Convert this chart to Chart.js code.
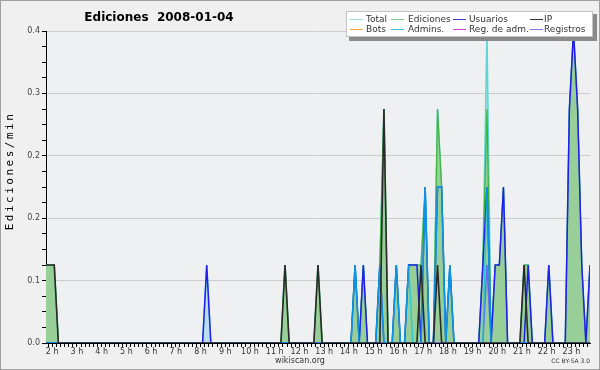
<!DOCTYPE html>
<html>
<head>
<meta charset="utf-8">
<style>
  html, body { margin: 0; padding: 0; background: #f0f0f0; }
  canvas { display: block; }
</style>
<script src="https://cdn.jsdelivr.net/npm/chart.js@4/dist/chart.umd.min.js"></script>
</head>
<body>
<canvas id="chart" width="600" height="370"></canvas>
<script>
// 10-minute slots, centred on hh:05, hh:15 ... from 1:45 to 23:45 (edits/min)
const firstSlot = 1.75;   // 1:45, in hours
const slotHours = 1 / 6;

// one line per three hours: 1 h (2 slots), 2-4 h, 5-7 h, 8-10 h, 11-13 h, 14-16 h, 17-19 h, 20-22 h, 23 h (5 slots)
const total = [
  0.1, 0.1,
  0.1, 0, 0, 0, 0, 0,  0, 0, 0, 0, 0, 0,  0, 0, 0, 0, 0, 0,
  0, 0, 0, 0, 0, 0,  0, 0, 0, 0, 0, 0,  0, 0, 0, 0, 0, 0,
  0, 0.1, 0, 0, 0, 0,  0, 0, 0, 0, 0, 0,  0, 0, 0, 0, 0, 0,
  0, 0, 0.1, 0, 0, 0,  0, 0, 0, 0, 0.1, 0,  0, 0, 0, 0, 0, 0,
  0, 0.1, 0, 0.1, 0, 0,  0, 0.1, 0.3, 0, 0, 0.1,  0, 0, 0.1, 0.1, 0.1, 0.1,
  0.2, 0, 0, 0.3, 0.2, 0,  0.1, 0, 0, 0, 0, 0,  0, 0, 0.1, 0.4, 0, 0.1,
  0.1, 0.2, 0, 0, 0, 0,  0.1, 0.1, 0, 0, 0, 0,  0.1, 0, 0, 0, 0, 0.3,
  0.4, 0.3, 0.1, 0, 0.1
];
const ediciones = [
  0.1, 0.1,
  0.1, 0, 0, 0, 0, 0,  0, 0, 0, 0, 0, 0,  0, 0, 0, 0, 0, 0,
  0, 0, 0, 0, 0, 0,  0, 0, 0, 0, 0, 0,  0, 0, 0, 0, 0, 0,
  0, 0, 0, 0, 0, 0,  0, 0, 0, 0, 0, 0,  0, 0, 0, 0, 0, 0,
  0, 0, 0.1, 0, 0, 0,  0, 0, 0, 0, 0.1, 0,  0, 0, 0, 0, 0, 0,
  0, 0.1, 0, 0.1, 0, 0,  0, 0.1, 0.3, 0, 0, 0.1,  0, 0, 0.1, 0.1, 0.1, 0.1,
  0.2, 0, 0, 0.3, 0.2, 0,  0.1, 0, 0, 0, 0, 0,  0, 0, 0.1, 0.3, 0, 0.1,
  0.1, 0.2, 0, 0, 0, 0,  0.1, 0.1, 0, 0, 0, 0,  0.1, 0, 0, 0, 0, 0.3,
  0.4, 0.3, 0.1, 0, 0.1
];
const usuarios = [
  0, 0,
  0, 0, 0, 0, 0, 0,  0, 0, 0, 0, 0, 0,  0, 0, 0, 0, 0, 0,
  0, 0, 0, 0, 0, 0,  0, 0, 0, 0, 0, 0,  0, 0, 0, 0, 0, 0,
  0, 0.1, 0, 0, 0, 0,  0, 0, 0, 0, 0, 0,  0, 0, 0, 0, 0, 0,
  0, 0, 0, 0, 0, 0,  0, 0, 0, 0, 0, 0,  0, 0, 0, 0, 0, 0,
  0, 0.1, 0, 0.1, 0, 0,  0, 0.1, 0, 0, 0, 0.1,  0, 0, 0.1, 0.1, 0.1, 0,
  0.2, 0, 0, 0.2, 0.2, 0,  0.1, 0, 0, 0, 0, 0,  0, 0, 0.1, 0.2, 0, 0.1,
  0.1, 0.2, 0, 0, 0, 0,  0, 0.1, 0, 0, 0, 0,  0.1, 0, 0, 0, 0, 0.3,
  0.4, 0.3, 0.1, 0, 0.1
];
const ip = [
  0.1, 0.1,
  0.1, 0, 0, 0, 0, 0,  0, 0, 0, 0, 0, 0,  0, 0, 0, 0, 0, 0,
  0, 0, 0, 0, 0, 0,  0, 0, 0, 0, 0, 0,  0, 0, 0, 0, 0, 0,
  0, 0, 0, 0, 0, 0,  0, 0, 0, 0, 0, 0,  0, 0, 0, 0, 0, 0,
  0, 0, 0.1, 0, 0, 0,  0, 0, 0, 0, 0.1, 0,  0, 0, 0, 0, 0, 0,
  0, 0, 0, 0, 0, 0,  0, 0, 0.3, 0, 0, 0,  0, 0, 0, 0, 0, 0.1,
  0, 0, 0, 0.1, 0, 0,  0, 0, 0, 0, 0, 0,  0, 0, 0, 0, 0, 0,
  0, 0, 0, 0, 0, 0,  0.1, 0, 0, 0, 0, 0,  0, 0, 0, 0, 0, 0,
  0, 0, 0, 0, 0
];
const bots = [
  0, 0,
  0, 0, 0, 0, 0, 0,  0, 0, 0, 0, 0, 0,  0, 0, 0, 0, 0, 0,
  0, 0, 0, 0, 0, 0,  0, 0, 0, 0, 0, 0,  0, 0, 0, 0, 0, 0,
  0, 0, 0, 0, 0, 0,  0, 0, 0, 0, 0, 0,  0, 0, 0, 0, 0, 0,
  0, 0, 0, 0, 0, 0,  0, 0, 0, 0, 0, 0,  0, 0, 0, 0, 0, 0,
  0, 0, 0, 0, 0, 0,  0, 0, 0, 0, 0, 0,  0, 0, 0, 0, 0, 0,
  0, 0, 0, 0, 0, 0,  0, 0, 0, 0, 0, 0,  0, 0, 0, 0, 0, 0,
  0, 0, 0, 0, 0, 0,  0, 0, 0, 0, 0, 0,  0, 0, 0, 0, 0, 0,
  0, 0, 0, 0, 0
];
const admins = [
  0, 0,
  0, 0, 0, 0, 0, 0,  0, 0, 0, 0, 0, 0,  0, 0, 0, 0, 0, 0,
  0, 0, 0, 0, 0, 0,  0, 0, 0, 0, 0, 0,  0, 0, 0, 0, 0, 0,
  0, 0, 0, 0, 0, 0,  0, 0, 0, 0, 0, 0,  0, 0, 0, 0, 0, 0,
  0, 0, 0, 0, 0, 0,  0, 0, 0, 0, 0, 0,  0, 0, 0, 0, 0, 0,
  0, 0.1, 0, 0, 0, 0,  0, 0.1, 0, 0, 0, 0.1,  0, 0, 0.1, 0, 0, 0,
  0.2, 0, 0, 0.2, 0.2, 0,  0.1, 0, 0, 0, 0, 0,  0, 0, 0, 0.2, 0, 0,
  0, 0, 0, 0, 0, 0,  0, 0, 0, 0, 0, 0,  0, 0, 0, 0, 0, 0,
  0, 0, 0, 0, 0
];
const regAdm = [
  0, 0,
  0, 0, 0, 0, 0, 0,  0, 0, 0, 0, 0, 0,  0, 0, 0, 0, 0, 0,
  0, 0, 0, 0, 0, 0,  0, 0, 0, 0, 0, 0,  0, 0, 0, 0, 0, 0,
  0, 0, 0, 0, 0, 0,  0, 0, 0, 0, 0, 0,  0, 0, 0, 0, 0, 0,
  0, 0, 0, 0, 0, 0,  0, 0, 0, 0, 0, 0,  0, 0, 0, 0, 0, 0,
  0, 0, 0, 0, 0, 0,  0, 0, 0, 0, 0, 0,  0, 0, 0, 0, 0, 0,
  0, 0, 0, 0, 0, 0,  0, 0, 0, 0, 0, 0,  0, 0, 0, 0, 0, 0,
  0, 0, 0, 0, 0, 0,  0, 0, 0, 0, 0, 0,  0, 0, 0, 0, 0, 0,
  0, 0, 0, 0, 0
];
const registros = [
  0, 0,
  0, 0, 0, 0, 0, 0,  0, 0, 0, 0, 0, 0,  0, 0, 0, 0, 0, 0,
  0, 0, 0, 0, 0, 0,  0, 0, 0, 0, 0, 0,  0, 0, 0, 0, 0, 0,
  0, 0, 0, 0, 0, 0,  0, 0, 0, 0, 0, 0,  0, 0, 0, 0, 0, 0,
  0, 0, 0, 0, 0, 0,  0, 0, 0, 0, 0, 0,  0, 0, 0, 0, 0, 0,
  0, 0, 0, 0, 0, 0,  0, 0, 0, 0, 0, 0,  0, 0, 0, 0, 0, 0,
  0, 0, 0, 0, 0, 0,  0, 0, 0, 0, 0, 0,  0, 0, 0, 0.1, 0, 0,
  0, 0, 0, 0, 0, 0,  0, 0, 0, 0, 0, 0,  0, 0, 0, 0, 0, 0,
  0, 0, 0, 0, 0
];

const yTicks = [0, 0.02, 0.04, 0.06, 0.08, 0.1, 0.12, 0.14, 0.16, 0.18, 0.2,
  0.22, 0.24, 0.26, 0.28, 0.3, 0.32, 0.34, 0.36, 0.38, 0.4];

const FONT = 'DejaVu Sans';

// x position of each slot, in hours
const slotX = total.map((v, i) => firstSlot + i * slotHours);
const pts = (arr) => arr.map((v, i) => ({ x: slotX[i], y: v }));

// minor ticks every 10 minutes, labels on whole hours
const xTicks = [];
for (let k = 11; k <= 142; k++) xTicks.push(k / 6);

const legendItems = [
  ['Total', '#8fdcdc'], ['Ediciones', '#7ccc7c'], ['Usuarios', '#3b3be0'], ['IP', '#333333'],
  ['Bots', '#f0a040'], ['Admins.', '#3cc6dc'], ['Reg. de adm.', '#d048d0'], ['Registros', '#7a7af0']
];

const decor = {
  id: 'decor',
  beforeDraw(chart) {
    const ctx = chart.ctx;
    const a = chart.chartArea;
    ctx.save();
    ctx.fillStyle = '#f0f0f0';
    ctx.fillRect(0, 0, chart.width, chart.height);
    ctx.fillStyle = '#eef0f2';
    ctx.fillRect(a.left, a.top, a.right - a.left, a.bottom - a.top);
    ctx.strokeStyle = '#a0a0a0';
    ctx.lineWidth = 1;
    ctx.strokeRect(0.5, 0.5, chart.width - 1, chart.height - 1);
    ctx.restore();
  },
  afterDraw(chart) {
    const ctx = chart.ctx;
    ctx.save();
    // title
    ctx.fillStyle = '#000';
    ctx.font = 'bold 12px "' + FONT + '"';
    ctx.textAlign = 'center';
    ctx.textBaseline = 'middle';
    ctx.fillText('Ediciones  2008-01-04', 159, 18);

    // y axis title
    ctx.save();
    ctx.translate(10, 171);
    ctx.rotate(-Math.PI / 2);
    ctx.font = '11px "DejaVu Sans Mono"';
    if ('letterSpacing' in ctx) ctx.letterSpacing = '2.5px';
    ctx.fillText('Ediciones/min', 0, 0);
    ctx.restore();

    // footer
    ctx.fillStyle = '#333';
    ctx.font = '8px "' + FONT + '"';
    ctx.fillText('wikiscan.org', 300, 361);
    ctx.font = '6px "' + FONT + '"';
    ctx.textAlign = 'right';
    ctx.fillText('CC BY-SA 3.0', 590, 361);

    // legend box with shadow
    ctx.fillStyle = '#8a8a8a';
    ctx.fillRect(349, 14, 248, 27);
    ctx.fillStyle = '#fff';
    ctx.fillRect(346, 11, 247, 26);
    ctx.strokeStyle = '#c4c4c4';
    ctx.strokeRect(346.5, 11.5, 246, 25);

    const lineX = [350, 391, 453, 530];
    const textX = [366, 408, 469, 544];
    const rowY = [19.5, 29.5];
    ctx.font = '9px "' + FONT + '"';
    ctx.textAlign = 'left';
    legendItems.forEach((it, i) => {
      const col = i % 4, row = Math.floor(i / 4);
      ctx.strokeStyle = it[1];
      ctx.lineWidth = 1;
      ctx.beginPath();
      ctx.moveTo(lineX[col], rowY[row]);
      ctx.lineTo(lineX[col] + 13, rowY[row]);
      ctx.stroke();
      ctx.fillStyle = '#333';
      ctx.fillText(it[0], textX[col], rowY[row]);
    });
    ctx.restore();
  }
};

const line = (label, data, color, width, order, extra) => Object.assign({
  label: label,
  data: pts(data),
  borderColor: color,
  borderWidth: width,
  pointRadius: 0,
  tension: 0,
  fill: false,
  order: order
}, extra || {});

const ctx = document.getElementById('chart').getContext('2d');
new Chart(ctx, {
  type: 'line',
  data: {
    datasets: [
      line('Total', total, '#5ed6d2', 1.5, 7, { fill: 'origin', backgroundColor: 'rgb(188,222,238)' }),
      line('Ediciones', ediciones, '#3cb43c', 1.2, 6, { fill: 'origin', backgroundColor: 'rgb(152,206,152)' }),
      line('Bots', bots, '#f0a040', 1.5, 5),
      line('Reg. de adm.', regAdm, '#d048d0', 1.5, 4),
      line('Registros', registros, '#6a6af0', 1.5, 3),
      line('Usuarios', usuarios, '#2020ee', 1.5, 2),
      line('Admins.', admins, 'rgba(0,200,230,0.7)', 1.5, 1),
      line('IP', ip, '#2a2a2a', 1.6, 0)
    ]
  },
  options: {
    responsive: false,
    devicePixelRatio: 1,
    animation: false,
    events: [],
    layout: { padding: { top: 31, right: 10, bottom: 0, left: 0 } },
    plugins: { legend: { display: false }, tooltip: { enabled: false } },
    scales: {
      x: {
        type: 'linear',
        min: firstSlot,
        max: firstSlot + (total.length - 1) * slotHours,
        afterBuildTicks: (scale) => { scale.ticks = xTicks.map(v => ({ value: v })); },
        afterFit: (scale) => { scale.height = 27; },
        grid: { drawOnChartArea: false, tickLength: 4, tickColor: '#000' },
        border: { color: '#000' },
        ticks: {
          autoSkip: false,
          maxRotation: 0,
          padding: 0,
          color: '#333',
          font: { family: FONT, size: 8 },
          callback: (v) => Math.abs(v - Math.round(v)) < 1e-6 ? Math.round(v) + ' h' : ''
        }
      },
      y: {
        min: 0,
        max: 0.4,
        afterBuildTicks: (scale) => { scale.ticks = yTicks.map(v => ({ value: v })); },
        afterFit: (scale) => { scale.width = 46; },
        grid: {
          color: (c) => c.index % 4 === 0 ? '#cccccc' : 'rgba(0,0,0,0)',
          tickColor: '#000',
          tickLength: 4
        },
        border: { color: '#000' },
        ticks: {
          padding: 2,
          color: '#444',
          font: { family: FONT, size: 8 },
          callback: (v, i) => i % 4 === 0 ? v.toFixed(1) : ''
        }
      }
    }
  },
  plugins: [decor]
});
</script>
</body>
</html>
